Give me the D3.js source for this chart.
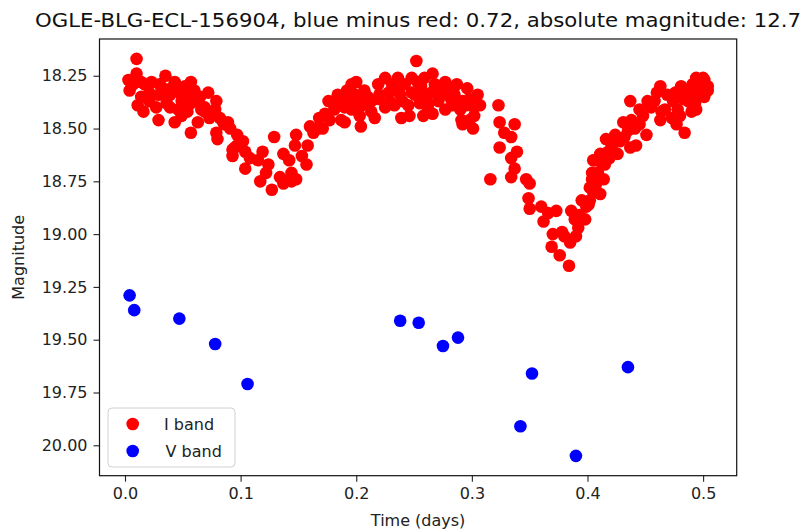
<!DOCTYPE html>
<html>
<head>
<meta charset="utf-8">
<script src="https://cdn.jsdelivr.net/npm/d3@7"></script>
<style>
  html, body { margin: 0; padding: 0; background: #fff; }
  svg { display: block; font-family: "DejaVu Sans", sans-serif; }
</style>
</head>
<body>
<svg id="chart" width="801" height="529"></svg>
<script>
// ---- Data ----
const titleText = "OGLE-BLG-ECL-156904, blue minus red: 0.72, absolute magnitude: 12.7";
const xLabel = "Time (days)";
const yLabel = "Magnitude";
const seriesNames = ["I band", "V band"];
const seriesColors = ["#ff0000", "#0000ff"];
const xTicks = [0.0, 0.1, 0.2, 0.3, 0.4, 0.5];
const yTicks = [18.25, 18.50, 18.75, 19.00, 19.25, 19.50, 19.75, 20.00];

// I band
const iTime = [
  0.010,0.010,0.003,0.004,0.014,0.023,0.035,0.014,0.011,0.016,0.029,0.027,0.029,0.036,0.040,0.044,0.036,0.043,0.046,0.052,
  0.057,0.060,0.054,0.057,0.063,0.066,0.072,0.079,0.078,0.069,0.085,0.091,0.079,0.080,0.093,0.093,0.033,0.049,0.057,0.053,
  0.089,0.102,0.095,0.104,0.108,0.104,0.115,0.119,0.124,0.122,0.117,0.127,0.129,0.134,0.137,0.138,0.144,0.142,0.148,0.147,
  0.148,0.153,0.158,0.157,0.160,0.163,0.171,0.173,0.176,0.181,0.187,0.186,0.190,0.196,0.196,0.144,0.137,
  0.252,0.200,0.225,0.236,0.248,0.259,0.266,0.277,0.287,0.193,0.202,0.210,0.219,0.228,0.236,0.248,0.256,0.265,0.274,0.282,
  0.292,0.298,0.196,0.203,0.213,0.216,0.225,0.233,0.239,0.246,0.255,0.258,0.266,0.277,0.291,0.292,0.298,0.204,0.190,0.219,
  0.240,0.262,
  0.300,0.307,0.302,0.301,0.323,0.324,0.337,0.328,0.334,0.324,0.339,0.334,0.337,0.334,0.316,0.347,0.350,0.349,0.350,0.360,
  0.366,0.362,0.373,0.370,0.369,0.376,0.384,0.380,0.386,0.389,0.392,0.385,0.390,0.395,0.399,0.402,0.405,0.404,0.393,0.378,
  0.398,0.401,0.405,0.411,0.404,0.414,0.406,0.415,0.411,0.418,0.426,0.416,0.424,0.432,0.437,0.442,0.431,0.438,0.445,0.451,
  0.437,0.448,0.455,0.460,0.463,0.463,0.467,0.474,0.481,0.483,0.478,0.477,0.484,0.490,0.489,0.494,0.500,0.504,0.501,0.494,
  0.497,
  0.007,0.017,0.021,0.030,0.039,0.043,0.047,0.056,0.060,0.039,0.049,0.021,0.065,0.069,0.073,0.082,0.086,0.097,0.097,
  0.167,0.168,0.177,0.181,0.190,0.192,0.184,
  0.199,0.205,0.207,0.213,0.220,0.229,0.231,0.238,0.242,0.245,0.251,0.253,0.259,0.262,0.268,0.271,0.274,0.279,0.283,0.285,
  0.290,0.295,0.302,0.305,0.296,
  0.445,0.452,0.458,0.469,0.476,0.484,0.487,0.491,0.495,0.499,0.501,0.504,0.493,0.480,0.473,0.464,
  0.402,0.407,0.409,0.412,0.419,0.421,0.428,0.435,0.441
];
const iMag = [
  18.17,18.24,18.27,18.32,18.28,18.28,18.25,18.35,18.39,18.42,18.34,18.40,18.46,18.34,18.31,18.31,18.38,18.47,18.41,18.30,
  18.28,18.32,18.42,18.52,18.47,18.41,18.33,18.37,18.41,18.40,18.47,18.50,18.52,18.55,18.60,18.63,18.31,18.37,18.38,18.33,
  18.47,18.56,18.59,18.61,18.64,18.69,18.65,18.61,18.67,18.71,18.75,18.79,18.54,18.73,18.62,18.75,18.71,18.65,18.53,18.58,
  18.74,18.63,18.58,18.67,18.49,18.52,18.50,18.43,18.37,18.41,18.46,18.37,18.35,18.29,18.39,18.75,18.76,
  18.18,18.28,18.26,18.26,18.26,18.26,18.24,18.28,18.29,18.34,18.36,18.35,18.36,18.33,18.32,18.33,18.30,18.33,18.32,18.36,
  18.37,18.36,18.41,18.44,18.42,18.45,18.40,18.39,18.45,18.44,18.38,18.44,18.43,18.41,18.46,18.48,18.46,18.49,18.47,18.29,
  18.37,18.38,
  18.37,18.39,18.44,18.50,18.39,18.47,18.48,18.52,18.54,18.59,18.61,18.64,18.69,18.73,18.74,18.74,18.76,18.83,18.88,18.87,
  18.90,18.94,18.89,19.00,19.06,19.10,19.15,19.01,18.89,18.93,18.97,19.04,19.01,18.84,18.87,18.78,18.65,18.71,18.91,18.99,
  18.93,18.86,18.80,18.81,18.74,18.74,18.65,18.67,18.62,18.61,18.62,18.55,18.53,18.54,18.59,18.58,18.47,18.46,18.48,18.53,
  18.37,18.44,18.40,18.33,18.30,18.46,18.41,18.37,18.30,18.36,18.41,18.48,18.52,18.42,18.34,18.26,18.26,18.30,18.35,18.41,
  18.31,
  18.29,18.29,18.33,18.29,18.34,18.28,18.33,18.34,18.37,18.40,18.44,18.37,18.35,18.42,18.45,18.45,18.48,18.53,18.58,
  18.50,18.45,18.46,18.37,18.40,18.32,18.34,
  18.34,18.39,18.32,18.37,18.34,18.37,18.29,18.34,18.29,18.39,18.34,18.28,18.34,18.40,18.29,18.37,18.34,18.31,18.39,18.34,
  18.41,18.39,18.40,18.34,18.31,
  18.41,18.37,18.37,18.34,18.33,18.32,18.37,18.29,18.34,18.29,18.27,18.32,18.38,18.44,18.45,18.42,
  18.84,18.77,18.71,18.66,18.64,18.58,18.56,18.51,18.50
];

// V band
const vTime = [0.004, 0.008, 0.047, 0.078, 0.106, 0.238, 0.254, 0.275, 0.288, 0.342, 0.352, 0.390, 0.435];
const vMag  = [19.29, 19.36, 19.40, 19.52, 19.71, 19.41, 19.42, 19.53, 19.49, 19.91, 19.66, 20.05, 19.63];

// ---- Layout ----
const W = 801, H = 529;
const margin = { left: 99.5, right: 64.3, top: 39, bottom: 53.3 };
const svg = d3.select("#chart");

// matplotlib-like 5% autoscale margins
const allX = iTime.concat(vTime), allY = iMag.concat(vMag);
const [x0, x1] = d3.extent(allX), [y0, y1] = d3.extent(allY);
const dx = (x1 - x0) * 0.05, dy = (y1 - y0) * 0.05;

const x = d3.scaleLinear().domain([x0 - dx, x1 + dx]).range([margin.left, W - margin.right]);
const y = d3.scaleLinear().domain([y0 - dy, y1 + dy]).range([margin.top, H - margin.bottom]); // inverted magnitude

const r = 6.3;

// points
const iData = iTime.map((t, k) => ({ t, m: iMag[k] }));
const vData = vTime.map((t, k) => ({ t, m: vMag[k] }));

const plot = svg.append("g");
plot.selectAll("circle.i").data(iData).join("circle")
  .attr("class", "i")
  .attr("cx", d => x(d.t)).attr("cy", d => y(d.m)).attr("r", r)
  .attr("fill", seriesColors[0]);
plot.selectAll("circle.v").data(vData).join("circle")
  .attr("class", "v")
  .attr("cx", d => x(d.t)).attr("cy", d => y(d.m)).attr("r", r)
  .attr("fill", seriesColors[1]);

// axes
const xAxis = d3.axisBottom(x).tickValues(xTicks).tickFormat(d3.format(".1f")).tickSize(6).tickPadding(6);
const yAxis = d3.axisLeft(y).tickValues(yTicks).tickFormat(d3.format(".2f")).tickSize(6).tickPadding(6);

const gx = svg.append("g").attr("transform", `translate(0,${H - margin.bottom})`).call(xAxis);
const gy = svg.append("g").attr("transform", `translate(${margin.left},0)`).call(yAxis);
[gx, gy].forEach(g => {
  g.select(".domain").remove();
  g.selectAll("text").attr("font-size", 16).attr("font-family", "DejaVu Sans, sans-serif").attr("fill", "#222");
  g.selectAll("line").attr("stroke", "#222").attr("stroke-width", 1.1);
});

// frame
svg.append("rect")
  .attr("x", margin.left).attr("y", margin.top)
  .attr("width", W - margin.left - margin.right)
  .attr("height", H - margin.top - margin.bottom)
  .attr("fill", "none").attr("stroke", "#111").attr("stroke-width", 1.2);

// labels
svg.append("text").attr("x", (margin.left + W - margin.right) / 2).attr("y", 526)
  .attr("text-anchor", "middle").attr("font-size", 16).attr("fill", "#222").text(xLabel);
svg.append("text").attr("transform", `translate(24,${(margin.top + H - margin.bottom) / 2}) rotate(-90)`)
  .attr("text-anchor", "middle").attr("font-size", 16).attr("fill", "#222").text(yLabel);

svg.append("text").attr("x", 35).attr("y", 27)
  .attr("font-size", 20).attr("fill", "#111")
  .attr("textLength", 766).attr("lengthAdjust", "spacingAndGlyphs")
  .text(titleText);

// legend
const lg = svg.append("g").attr("transform", "translate(108,408)");
lg.append("rect").attr("width", 127).attr("height", 59).attr("rx", 4)
  .attr("fill", "#fff").attr("fill-opacity", 0.8).attr("stroke", "#d0d0d0");
seriesNames.forEach((name, k) => {
  lg.append("circle").attr("cx", 24.7).attr("cy", 16 + k * 27).attr("r", r).attr("fill", seriesColors[k]);
  lg.append("text").attr("x", 56 + k * 1.5).attr("y", 21.5 + k * 27).attr("font-size", 16).attr("fill", "#222").text(name);
});
</script>
</body>
</html>
